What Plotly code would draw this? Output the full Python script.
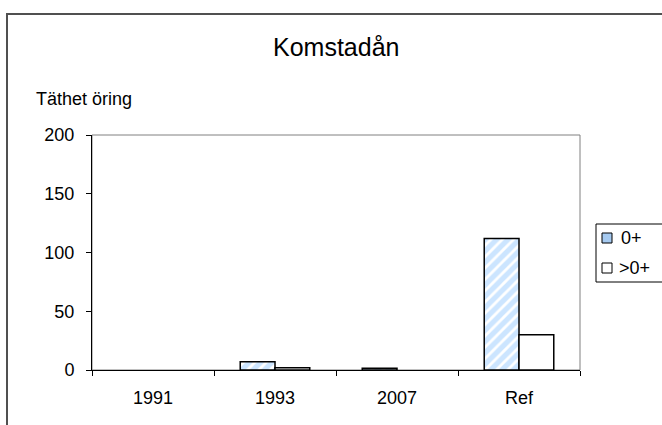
import plotly.graph_objects as go

categories = ["1991", "1993", "2007", "Ref"]
young = [None, 7, 1.5, 112]    # 0+
older = [None, 2, None, 30]    # >0+
series_names = ["0+", ">0+"]
title_text = "Komstadån"
y_label = "Täthet öring"

BLUE = "#A6CAF0"
STRIPE = "#99CCFF"
FONT = "Arial, Liberation Sans, sans-serif"

W, H = 662, 425
L, R, T, B = 92, 580, 135, 370   # plot-area pixel box


def px(x):
    return (x - L) / (R - L)


def py(y):
    return (B - y) / (B - T)


fig = go.Figure()
fig.add_trace(go.Bar(
    x=categories, y=young, name=series_names[0],
    marker=dict(color="white", line=dict(color="black", width=1.5),
                pattern=dict(shape="/", fgcolor=STRIPE, bgcolor="white", size=8, solidity=0.65)),
))
fig.add_trace(go.Bar(
    x=categories, y=older, name=series_names[1],
    marker=dict(color="white", line=dict(color="black", width=1.5)),
))

shapes = [
    dict(type="rect", xref="paper", yref="paper", x0=0, x1=1, y0=0, y1=1,
         line=dict(color="#808080", width=1), layer="below"),
    dict(type="rect", xref="paper", yref="paper", x0=px(7), x1=px(700), y0=py(470), y1=py(14),
         line=dict(color="#505050", width=2), layer="below"),
    dict(type="rect", xref="paper", yref="paper", x0=px(596), x1=px(700), y0=py(282), y1=py(224),
         line=dict(color="black", width=1), fillcolor="white", layer="below"),
    dict(type="rect", xref="paper", yref="paper", x0=px(602), x1=px(612), y0=py(243), y1=py(233),
         line=dict(color="black", width=1), fillcolor=BLUE),
    dict(type="rect", xref="paper", yref="paper", x0=px(602), x1=px(612), y0=py(273), y1=py(263),
         line=dict(color="black", width=1), fillcolor="white"),
]

annotations = [
    dict(text=title_text, xref="paper", yref="paper", x=0.5, y=py(47),
         xanchor="center", yanchor="middle", showarrow=False,
         font=dict(size=25, family=FONT)),
    dict(text=y_label, xref="paper", yref="paper", x=px(34), y=py(99),
         xanchor="left", yanchor="middle", showarrow=False,
         font=dict(size=18, family=FONT)),
    dict(text=series_names[0], xref="paper", yref="paper", x=px(619), y=py(238),
         xanchor="left", yanchor="middle", showarrow=False,
         font=dict(size=18, family=FONT)),
    dict(text=series_names[1], xref="paper", yref="paper", x=px(617), y=py(268),
         xanchor="left", yanchor="middle", showarrow=False,
         font=dict(size=18, family=FONT)),
]

fig.update_layout(
    width=W, height=H,
    margin=dict(l=L, r=W - R, t=T, b=H - B, autoexpand=False),
    paper_bgcolor="white", plot_bgcolor="white",
    font=dict(family=FONT, size=18, color="black"),
    barmode="group", bargap=0.43, bargroupgap=0,
    showlegend=False,
    xaxis=dict(type="category", categoryorder="array", categoryarray=categories,
               showline=True, linecolor="black", linewidth=1,
               ticks="outside", tickson="boundaries", ticklen=5, tickcolor="black",
               showgrid=False, tickfont=dict(size=18), ticklabelstandoff=11),
    yaxis=dict(range=[0, 200], dtick=50, showline=True, linecolor="black", linewidth=1,
               ticks="outside", ticklen=5, tickcolor="black", showgrid=False,
               zeroline=False, tickfont=dict(size=18), ticklabelstandoff=8),
    shapes=shapes,
    annotations=annotations,
)

fig.write_html("out.html", config={"displayModeBar": False},
               post_script="document.body.style.margin='0px';")
